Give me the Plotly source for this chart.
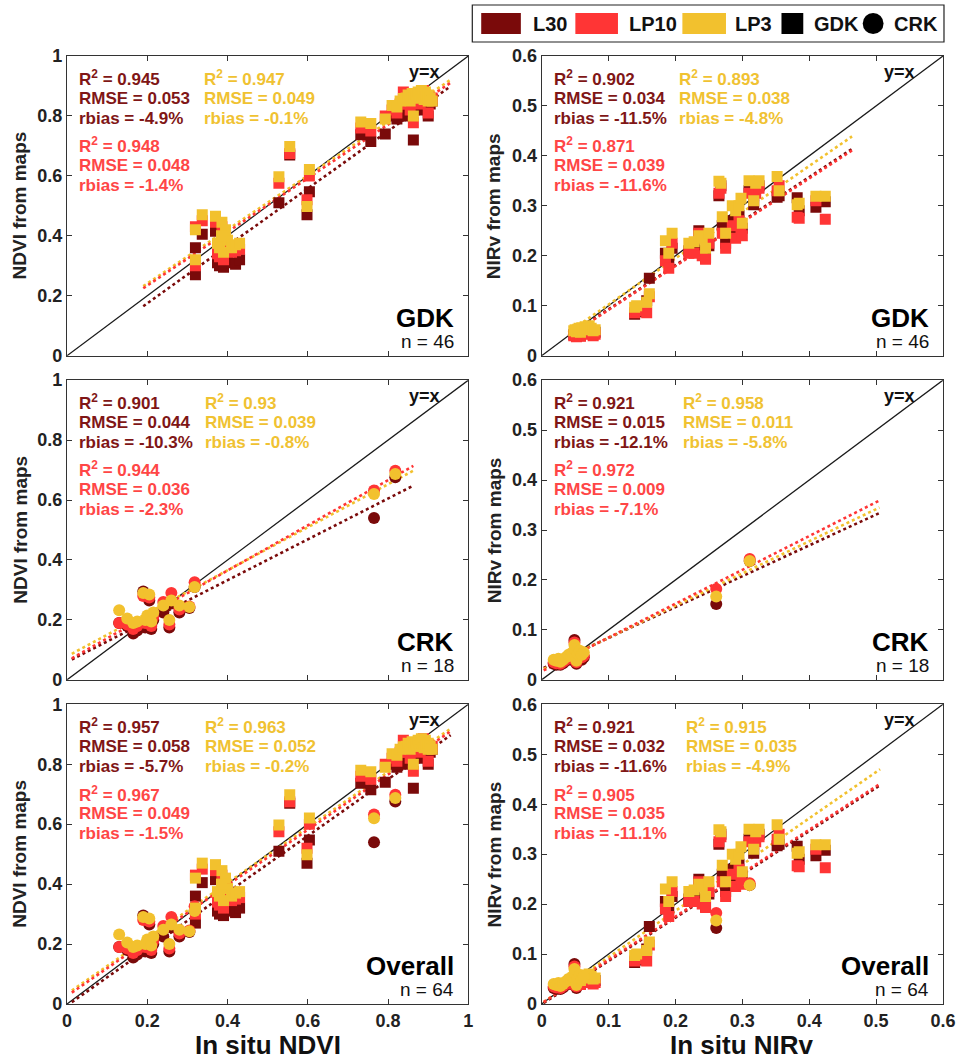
import plotly.graph_objects as go
from plotly.subplots import make_subplots

FONT = "Liberation Sans, Arial, sans-serif"

series_names = ["L30", "LP10", "LP3"]
series_colors = {"L30": "#7a0a0a", "LP10": "#ff3535", "LP3": "#f2c12e"}
text_colors = {"L30": "#801616", "LP10": "#ff4646", "LP3": "#f0c232"}
site_symbols = {"GDK": "square", "CRK": "circle"}
site_sizes = {"GDK": 11, "CRK": 12}

# ---------------- GDK (squares) ----------------
gdk_ndvi_insitu = [0.32, 0.32, 0.337, 0.37, 0.375, 0.38, 0.386, 0.39, 0.40, 0.41, 0.42, 0.43, 0.395, 0.385,
                   0.528, 0.555, 0.598, 0.604,
                   0.732, 0.757, 0.793, 0.81, 0.822, 0.83, 0.838, 0.845, 0.85, 0.855, 0.863, 0.86, 0.865, 0.87,
                   0.872, 0.875, 0.878, 0.88, 0.883, 0.885, 0.888, 0.89, 0.893, 0.895, 0.9, 0.9, 0.905, 0.91]
gdk_ndvi_l30 = [0.36, 0.27, 0.405, 0.415, 0.31, 0.30, 0.387, 0.295, 0.34, 0.31, 0.305, 0.32, 0.38, 0.35,
                0.51, 0.67, 0.47, 0.547,
                0.737, 0.715, 0.74, 0.80, 0.79, 0.80, 0.84, 0.82, 0.83, 0.80, 0.72, 0.84, 0.82, 0.85,
                0.83, 0.86, 0.84, 0.82, 0.87, 0.85, 0.88, 0.84, 0.86, 0.85, 0.80, 0.86, 0.84, 0.85]
gdk_ndvi_lp10 = [0.43, 0.30, 0.45, 0.445, 0.34, 0.33, 0.43, 0.32, 0.37, 0.345, 0.35, 0.355, 0.40, 0.37,
                 0.575, 0.675, 0.52, 0.60,
                 0.76, 0.75, 0.80, 0.82, 0.81, 0.84, 0.88, 0.84, 0.85, 0.82, 0.777, 0.86, 0.845, 0.86,
                 0.85, 0.87, 0.855, 0.84, 0.875, 0.86, 0.885, 0.86, 0.87, 0.855, 0.81, 0.865, 0.85, 0.86]
gdk_ndvi_lp3 = [0.42, 0.32, 0.47, 0.465, 0.375, 0.36, 0.445, 0.345, 0.385, 0.36, 0.37, 0.375, 0.42, 0.40,
                0.597, 0.698, 0.498, 0.621,
                0.78, 0.775, 0.79, 0.835, 0.83, 0.85, 0.858, 0.86, 0.87, 0.85, 0.80, 0.875, 0.86, 0.87,
                0.865, 0.88, 0.87, 0.86, 0.885, 0.87, 0.875, 0.855, 0.88, 0.865, 0.85, 0.87, 0.86, 0.85]

gdk_nirv_insitu = [0.048, 0.05, 0.052, 0.054, 0.056, 0.058, 0.06, 0.062, 0.065, 0.068, 0.071, 0.074, 0.077, 0.08,
                   0.139, 0.142, 0.157, 0.161,
                   0.185, 0.19, 0.195, 0.22, 0.228, 0.235, 0.24, 0.245, 0.25, 0.265, 0.268, 0.27, 0.275,
                   0.285, 0.29, 0.295, 0.298, 0.30, 0.31, 0.317, 0.32, 0.325, 0.352, 0.355, 0.382, 0.385,
                   0.41, 0.424]
gdk_nirv_l30 = [0.042, 0.045, 0.040, 0.043, 0.046, 0.040, 0.048, 0.045, 0.050, 0.047, 0.052, 0.049, 0.044, 0.047,
                0.083, 0.088, 0.11, 0.155,
                0.205, 0.19, 0.215, 0.21, 0.215, 0.25, 0.21, 0.195, 0.22, 0.32, 0.34, 0.26, 0.225,
                0.27, 0.245, 0.28, 0.26, 0.255, 0.33, 0.302, 0.335, 0.34, 0.317, 0.32, 0.316, 0.29,
                0.297, 0.308]
gdk_nirv_lp10 = [0.040, 0.043, 0.038, 0.041, 0.044, 0.039, 0.046, 0.043, 0.047, 0.044, 0.049, 0.046, 0.040, 0.043,
                 0.086, 0.09, 0.086, 0.118,
                 0.19, 0.175, 0.225, 0.205, 0.205, 0.245, 0.20, 0.193, 0.225, 0.325, 0.335, 0.245, 0.215,
                 0.26, 0.235, 0.27, 0.25, 0.24, 0.325, 0.32, 0.325, 0.335, 0.33, 0.34, 0.277, 0.275,
                 0.31, 0.273]
gdk_nirv_lp3 = [0.050, 0.052, 0.048, 0.053, 0.055, 0.047, 0.056, 0.052, 0.058, 0.054, 0.060, 0.055, 0.050, 0.052,
                0.097, 0.10, 0.107, 0.124,
                0.23, 0.205, 0.245, 0.225, 0.228, 0.24, 0.235, 0.215, 0.245, 0.349, 0.345, 0.278, 0.245,
                0.30, 0.29, 0.30, 0.315, 0.265, 0.35, 0.31, 0.345, 0.35, 0.359, 0.33, 0.302, 0.305,
                0.319, 0.319]

# ---------------- CRK (circles) ----------------
crk_ndvi_insitu = [0.13, 0.15, 0.165, 0.175, 0.19, 0.195, 0.2, 0.205, 0.21, 0.215, 0.24, 0.255, 0.26,
                   0.28, 0.305, 0.318, 0.765, 0.818]
crk_ndvi_l30 = [0.19, 0.18, 0.155, 0.165, 0.295, 0.175, 0.185, 0.265, 0.17, 0.2, 0.225, 0.175, 0.255,
                0.225, 0.24, 0.31, 0.54, 0.676]
crk_ndvi_lp10 = [0.19, 0.185, 0.17, 0.18, 0.28, 0.19, 0.195, 0.275, 0.18, 0.21, 0.26, 0.185, 0.29,
                 0.235, 0.245, 0.326, 0.632, 0.698]
crk_ndvi_lp3 = [0.232, 0.205, 0.19, 0.195, 0.29, 0.20, 0.215, 0.285, 0.195, 0.225, 0.248, 0.2, 0.265,
                0.248, 0.243, 0.31, 0.62, 0.687]

crk_nirv_insitu = [0.018, 0.022, 0.025, 0.028, 0.032, 0.036, 0.04, 0.044, 0.046, 0.049, 0.05, 0.052,
                   0.054, 0.057, 0.06, 0.063, 0.261, 0.311]
crk_nirv_l30 = [0.032, 0.03, 0.035, 0.03, 0.033, 0.038, 0.042, 0.04, 0.05, 0.08, 0.055, 0.032,
                0.045, 0.05, 0.04, 0.045, 0.152, 0.238]
crk_nirv_lp10 = [0.035, 0.033, 0.038, 0.032, 0.036, 0.04, 0.045, 0.043, 0.052, 0.075, 0.058, 0.035,
                 0.048, 0.052, 0.045, 0.048, 0.182, 0.242]
crk_nirv_lp3 = [0.04, 0.038, 0.042, 0.036, 0.04, 0.045, 0.05, 0.048, 0.055, 0.07, 0.062, 0.038,
                0.052, 0.058, 0.05, 0.055, 0.167, 0.238]

# ---------------- regression lines ----------------
# per panel: x start/end and y start/end for L30, LP10, LP3
fit_x = {"GDK_NDVI": [0.19, 0.955], "GDK_NIRv": [0.04, 0.464],
         "CRK_NDVI": [0.012, 0.863], "CRK_NIRv": [0.003, 0.505],
         "ALL_NDVI": [0.012, 0.956], "ALL_NIRv": [0.003, 0.506]}
fit_y_l30 = {"GDK_NDVI": [0.165, 0.898], "GDK_NIRv": [0.040, 0.414],
             "CRK_NDVI": [0.068, 0.648], "CRK_NIRv": [0.024, 0.334],
             "ALL_NDVI": [0.006, 0.897], "ALL_NIRv": [0.002, 0.438]}
fit_y_lp10 = {"GDK_NDVI": [0.225, 0.910], "GDK_NIRv": [0.039, 0.411],
              "CRK_NDVI": [0.072, 0.714], "CRK_NIRv": [0.019, 0.359],
              "ALL_NDVI": [0.038, 0.910], "ALL_NIRv": [0.004, 0.441]}
fit_y_lp3 = {"GDK_NDVI": [0.232, 0.920], "GDK_NIRv": [0.047, 0.439],
             "CRK_NDVI": [0.087, 0.698], "CRK_NIRv": [0.022, 0.345],
             "ALL_NDVI": [0.045, 0.919], "ALL_NIRv": [0.004, 0.470]}

# ---------------- statistics text ----------------
stats_r2 = {"GDK_NDVI": ["0.945", "0.948", "0.947"], "GDK_NIRv": ["0.902", "0.871", "0.893"],
            "CRK_NDVI": ["0.901", "0.944", "0.93"], "CRK_NIRv": ["0.921", "0.972", "0.958"],
            "ALL_NDVI": ["0.957", "0.967", "0.963"], "ALL_NIRv": ["0.921", "0.905", "0.915"]}
stats_rmse = {"GDK_NDVI": ["0.053", "0.048", "0.049"], "GDK_NIRv": ["0.034", "0.039", "0.038"],
              "CRK_NDVI": ["0.044", "0.036", "0.039"], "CRK_NIRv": ["0.015", "0.009", "0.011"],
              "ALL_NDVI": ["0.058", "0.049", "0.052"], "ALL_NIRv": ["0.032", "0.035", "0.035"]}
stats_rbias = {"GDK_NDVI": ["-4.9%", "-1.4%", "-0.1%"], "GDK_NIRv": ["-11.5%", "-11.6%", "-4.8%"],
               "CRK_NDVI": ["-10.3%", "-2.3%", "-0.8%"], "CRK_NIRv": ["-12.1%", "-7.1%", "-5.8%"],
               "ALL_NDVI": ["-5.7%", "-1.5%", "-0.2%"], "ALL_NIRv": ["-11.6%", "-11.1%", "-4.9%"]}

data = {
    ("GDK", "NDVI"): (gdk_ndvi_insitu, {"L30": gdk_ndvi_l30, "LP10": gdk_ndvi_lp10, "LP3": gdk_ndvi_lp3}),
    ("GDK", "NIRv"): (gdk_nirv_insitu, {"L30": gdk_nirv_l30, "LP10": gdk_nirv_lp10, "LP3": gdk_nirv_lp3}),
    ("CRK", "NDVI"): (crk_ndvi_insitu, {"L30": crk_ndvi_l30, "LP10": crk_ndvi_lp10, "LP3": crk_ndvi_lp3}),
    ("CRK", "NIRv"): (crk_nirv_insitu, {"L30": crk_nirv_l30, "LP10": crk_nirv_lp10, "LP3": crk_nirv_lp3}),
}

variables = ["NDVI", "NIRv"]
axis_max = {"NDVI": 1.0, "NIRv": 0.6}
axis_dtick = {"NDVI": 0.2, "NIRv": 0.1}
rows = [("GDK", ["GDK"], "GDK", "n = 46"),
        ("CRK", ["CRK"], "CRK", "n = 18"),
        ("ALL", ["GDK", "CRK"], "Overall", "n = 64")]
yellow_x = {"GDK_NDVI": 0.336, "GDK_NIRv": 0.336, "CRK_NDVI": 0.338, "CRK_NIRv": 0.346,
            "ALL_NDVI": 0.338, "ALL_NIRv": 0.355}

fig = make_subplots(rows=3, cols=2, horizontal_spacing=0.0837, vertical_spacing=0.0258)

annotations = []
fit_y = {"L30": fit_y_l30, "LP10": fit_y_lp10, "LP3": fit_y_lp3}

for r, (key, sites, label, ntext) in enumerate(rows, start=1):
    for c, var in enumerate(variables, start=1):
        pkey = f"{key}_{var}"
        idx = (r - 1) * 2 + c
        xr = "x" if idx == 1 else f"x{idx}"
        yr = "y" if idx == 1 else f"y{idx}"
        vmax = axis_max[var]
        # y = x line
        fig.add_trace(go.Scatter(x=[0, vmax], y=[0, vmax], mode="lines",
                                 line=dict(color="#1a1a1a", width=1.3), showlegend=False,
                                 hoverinfo="skip"), row=r, col=c)
        # regression lines
        for s in ["L30", "LP3", "LP10"]:
            fig.add_trace(go.Scatter(x=fit_x[pkey], y=fit_y[s][pkey], mode="lines",
                                     line=dict(color=series_colors[s], width=2.6, dash="dot"),
                                     showlegend=False, hoverinfo="skip"), row=r, col=c)
        # points
        for s in series_names:
            for site in sites:
                xs, ys = data[(site, var)]
                fig.add_trace(go.Scatter(x=xs, y=ys[s], mode="markers",
                                         marker=dict(symbol=site_symbols[site], size=site_sizes[site],
                                                     color=series_colors[s], line=dict(width=0)),
                                         showlegend=False, name=f"{s} {site}"), row=r, col=c)
        # axes
        fig.update_xaxes(range=[0, vmax], dtick=axis_dtick[var], tick0=0, row=r, col=c,
                         showticklabels=(r == 3))
        fig.update_yaxes(range=[0, vmax], dtick=axis_dtick[var], tick0=0, row=r, col=c)

        # stats text
        ys_l = [0.926, 0.859, 0.792]
        ys_r = [0.702, 0.635, 0.568]
        blocks = [("L30", 0.025, ys_l), ("LP10", 0.025, ys_r), ("LP3", yellow_x[pkey], ys_l)]
        for si, (s, xpos, ypos) in enumerate(blocks):
            k = series_names.index(s)
            lines = [f"R<sup>2</sup> = {stats_r2[pkey][k]}",
                     f"RMSE = {stats_rmse[pkey][k]}",
                     f"rbias = {stats_rbias[pkey][k]}"]
            for t, yp in zip(lines, ypos):
                annotations.append(dict(text=t, x=xpos, y=yp, xref=f"{xr} domain", yref=f"{yr} domain",
                                        xanchor="left", yanchor="middle", showarrow=False,
                                        font=dict(family=FONT, size=17, color=text_colors[s],
                                                  weight="bold")))
        annotations.append(dict(text="y=x", x=0.935, y=0.947, xref=f"{xr} domain", yref=f"{yr} domain",
                                xanchor="right", yanchor="middle", showarrow=False,
                                font=dict(family=FONT, size=18, color="#111", weight="bold")))
        annotations.append(dict(text=label, x=0.97, y=0.127, xref=f"{xr} domain", yref=f"{yr} domain",
                                xanchor="right", yanchor="middle", showarrow=False,
                                font=dict(family=FONT, size=26, color="#000", weight="bold")))
        annotations.append(dict(text=ntext, x=0.97, y=0.047, xref=f"{xr} domain", yref=f"{yr} domain",
                                xanchor="right", yanchor="middle", showarrow=False,
                                font=dict(family=FONT, size=19, color="#111")))
        annotations.append(dict(text=f"{var} from maps", x=-0.118, y=0.5, xref=f"{xr} domain",
                                yref=f"{yr} domain", xanchor="center", yanchor="middle",
                                textangle=-90, showarrow=False,
                                font=dict(family=FONT, size=19, color="#222", weight="bold")))
        if r == 3:
            annotations.append(dict(text=f"In situ {var}", x=0.5, y=-0.137, xref=f"{xr} domain",
                                    yref=f"{yr} domain", xanchor="center", yanchor="middle",
                                    showarrow=False,
                                    font=dict(family=FONT, size=26, color="#111", weight="bold")))

axis_style = dict(showgrid=False, zeroline=False, showline=True, linecolor="#333", linewidth=1.2,
                  mirror="ticks", ticks="inside", ticklen=5, tickwidth=1, tickcolor="#333",
                  tickfont=dict(family=FONT, size=18, color="#222", weight="bold"))
fig.update_xaxes(**axis_style)
fig.update_yaxes(**axis_style)

# ---------------- legend (drawn in pixel-derived paper coords) ----------------
W, H = 968, 1060
ML, MR, MT, MB = 67, 17, 56, 56


def px(x):
    return (x - ML) / (W - ML - MR)


def py(y):
    return (H - MB - y) / (H - MT - MB)


shapes = [dict(type="rect", xref="paper", yref="paper", x0=px(476), x1=px(952), y0=py(42), y1=py(5),
               line=dict(color="#222", width=1.2), fillcolor="white", layer="above")]
legend_items = [("L30", "rect", series_colors["L30"], 485, 525, 535),
                ("LP10", "rect", series_colors["LP10"], 580, 623, 632),
                ("LP3", "rect", series_colors["LP3"], 688, 732, 739),
                ("GDK", "rect", "#000000", 788, 810, 819),
                ("CRK", "circle", "#000000", 870, 891, 900)]
for name, kind, col, x0, x1, tx in legend_items:
    shapes.append(dict(type=kind, xref="paper", yref="paper", x0=px(x0), x1=px(x1), y0=py(34), y1=py(13),
                       line=dict(width=0), fillcolor=col, layer="above"))
    annotations.append(dict(text=name, x=px(tx), y=py(24), xref="paper", yref="paper",
                            xanchor="left", yanchor="middle", showarrow=False,
                            font=dict(family=FONT, size=20, color="#111", weight="bold")))

fig.update_layout(width=W, height=H, margin=dict(l=ML, r=MR, t=MT, b=MB),
                  paper_bgcolor="white", plot_bgcolor="white", showlegend=False,
                  annotations=annotations, shapes=shapes)

fig.write_html("out.html")
